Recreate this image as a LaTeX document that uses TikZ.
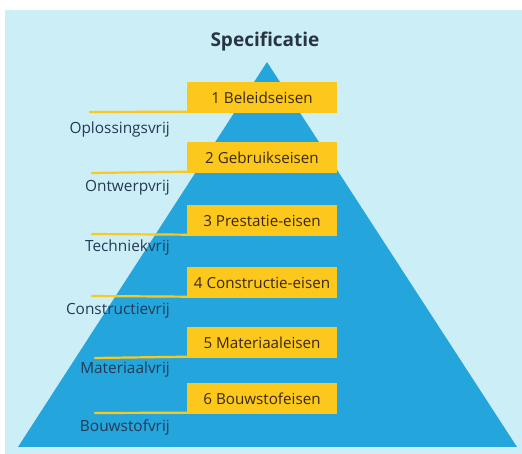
\documentclass[tikz,border=0pt]{standalone}
\usepackage{fontspec}
\setmainfont{Open Sans}
\usetikzlibrary{positioning}

\begin{document}
\begin{tikzpicture}[x=1pt,y=1pt,
  eis/.style={fill=yellowColor,text=eisColor,minimum width=150pt,minimum height=31pt,inner sep=0pt,font=\fontsize{15.2}{17}\selectfont},
  vrij/.style={text=vrijColor,anchor=east,inner sep=0pt,font=\fontsize{15.4}{17}\selectfont},
  streep/.style={draw=yellowColor,line width=2.2pt,line cap=round}]
\definecolor{bgColor}{RGB}{204,238,246}
\definecolor{pyrColor}{RGB}{36,166,220}
\definecolor{yellowColor}{RGB}{252,200,28}
\definecolor{eisColor}{RGB}{58,40,20}
\definecolor{vrijColor}{RGB}{36,58,86}
\definecolor{titleColor}{RGB}{40,52,66}
\path[use as bounding box,fill=white] (0,0) rectangle (522,454);
\path[fill=bgColor] (5,0) rectangle (522,444);

% piramide
\path[fill=pyrColor] (267,392) -- (517,7) -- (18,7) -- cycle;

\node[text=titleColor,font=\bfseries\fontsize{19}{22}\selectfont] (titel) at (265,412) {Specificatie};

% eisen
\node[eis] (e1) at (262,356) {1 Beleidseisen};
\node[eis] (e2) at (262,296) {2 Gebruikseisen};
\node[eis] (e3) at (262,233) {3 Prestatie-eisen};
\node[eis] (e4) at (262,171) {4 Constructie-eisen};
\node[eis] (e5) at (262,111) {5 Materiaaleisen};
\node[eis] (e6) at (262, 55) {6 Bouwstofeisen};

\coordinate (s1) at ( 90,342);
\coordinate (s2) at ( 92,281);
\coordinate (s3) at ( 92,220);
\coordinate (s4) at ( 92,158);
\coordinate (s5) at ( 95, 96);
\coordinate (s6) at ( 95, 41);

\draw[streep] ([yshift=2pt]e1.south west) -- (s1);
\draw[streep] ([yshift=2pt]e2.south west) -- (s2);
\draw[streep] ([yshift=2pt]e3.south west) -- (s3);
\draw[streep] ([yshift=2pt]e4.south west) -- (s4);
\draw[streep] ([yshift=2pt]e5.south west) -- (s5);
\draw[streep] ([yshift=2pt]e6.south west) -- (s6);

% vrijheden
\node[vrij] (v1) at (170,324) {Oplossingsvrij};
\node[vrij] (v2) at (170,266) {Ontwerpvrij};
\node[vrij] (v3) at (170,206) {Techniekvrij};
\node[vrij] (v4) at (170,143) {Constructievrij};
\node[vrij] (v5) at (170, 84) {Materiaalvrij};
\node[vrij] (v6) at (170, 27) {Bouwstofvrij};
\end{tikzpicture}
\end{document}
